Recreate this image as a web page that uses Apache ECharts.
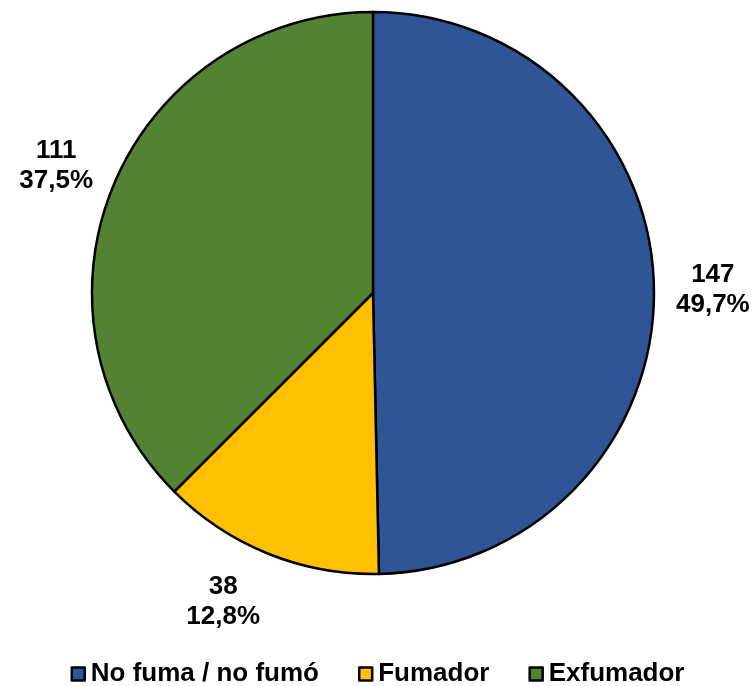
<!DOCTYPE html>
<html>
<head>
<meta charset="utf-8">
<style>
  html, body { margin: 0; padding: 0; background: #ffffff; }
  #chart { width: 755px; height: 686px; }
</style>
<script src="https://cdn.jsdelivr.net/npm/echarts@6/dist/echarts.min.js"></script>
</head>
<body>
<div id="chart"></div>
<script>
// Smoking status distribution
const categories = ['No fuma / no fumó', 'Fumador', 'Exfumador'];
const counts = [147, 38, 111];
const percentLabels = ['49,7%', '12,8%', '37,5%'];
const colors = ['#2F5597', '#FFC000', '#548235'];

const cx = 373, cy = 293, R = 281;
const labelGap = 22;

const total = counts.reduce((a, b) => a + b, 0);
// mid angle (clockwise from 12 o'clock) of each slice, used to place labels outside
const midAngles = [];
let acc = 0;
counts.forEach(v => {
  midAngles.push((acc + v / 2) / total * 2 * Math.PI);
  acc += v;
});

const chart = echarts.init(document.getElementById('chart'), null, { renderer: 'canvas' });
chart.setOption({
  animation: false,
  color: colors,
  legend: {
    top: 656,
    left: 'center',
    itemWidth: 13,
    itemHeight: 13,
    itemGap: 39,
    icon: 'rect',
    itemStyle: { borderColor: '#000000', borderWidth: 2.5 },
    textStyle: {
      fontFamily: 'Liberation Sans, Arial, sans-serif',
      fontSize: 26,
      fontWeight: 'bold',
      color: '#000000',
      padding: [0, 0, 5, 1]
    },
    data: categories
  },
  series: [{
    type: 'pie',
    center: [cx, cy],
    radius: R,
    startAngle: 90,
    clockwise: true,
    itemStyle: { borderColor: '#000000', borderWidth: 2.5 },
    label: {
      show: true,
      position: 'outside',
      overflow: 'none',
      fontFamily: 'Liberation Sans, Arial, sans-serif',
      fontSize: 26,
      fontWeight: 'bold',
      lineHeight: 30,
      color: '#000000',
      formatter: p => counts[p.dataIndex] + '\n' + percentLabels[p.dataIndex]
    },
    labelLine: { show: false },
    // anchor each label just outside the rim on the slice bisector,
    // pushing the text box away from the pie
    labelLayout: p => {
      const a = midAngles[p.dataIndex];
      const ux = Math.sin(a), uy = -Math.cos(a);
      const w = p.labelRect.width, h = p.labelRect.height;
      return {
        x: cx + (R + labelGap) * ux + Math.sign(ux) * w / 2,
        y: cy + (R + labelGap) * uy + uy * h / 2,
        align: 'center',
        verticalAlign: 'middle'
      };
    },
    emphasis: { disabled: true },
    data: categories.map((name, i) => ({ name, value: counts[i] }))
  }]
});
</script>
</body>
</html>
